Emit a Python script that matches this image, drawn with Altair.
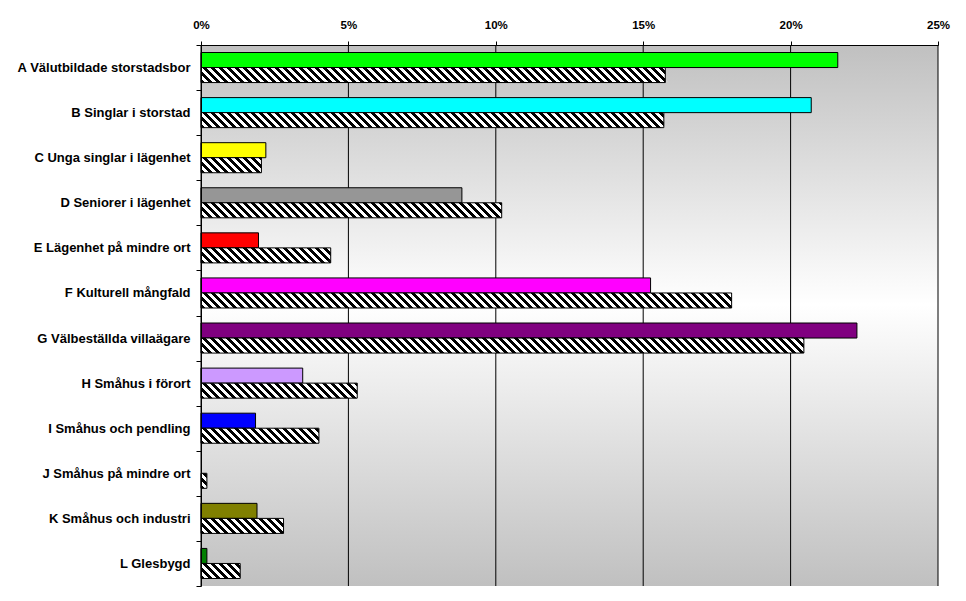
import altair as alt

categories = [
    "A Välutbildade storstadsbor",
    "B Singlar i storstad",
    "C Unga singlar i lägenhet",
    "D Seniorer i lägenhet",
    "E Lägenhet på mindre ort",
    "F Kulturell mångfald",
    "G Välbeställda villaägare",
    "H Småhus i förort",
    "I Småhus och pendling",
    "J Småhus på mindre ort",
    "K Småhus och industri",
    "L Glesbygd",
]
group_values = [21.6, 20.7, 2.2, 8.85, 1.95, 15.25, 22.25, 3.45, 1.85, 0.0, 1.9, 0.2]
compare_values = [15.75, 15.7, 2.05, 10.2, 4.4, 18.0, 20.45, 5.3, 4.0, 0.2, 2.8, 1.33]
colors = ["#00FF00", "#00FFFF", "#FFFF00", "#969696", "#FF0000", "#FF00FF",
          "#800080", "#CC99FF", "#0000FF", "#FFCC00", "#808000", "#008000"]
tick_values = [0, 5, 10, 15, 20, 25]

W, H = 737, 541
XMAX = 25
BAR_H = H / len(categories) / 3
PERIOD = 8.0
FONT = "Liberation Sans"


def hatch(v):
    """Diagonal (\\) black/white stripes as a bounding-box linear gradient."""
    w = v / XMAX * W
    h = BAR_H
    L = w + h
    a, b = w / L, -h / L
    n2 = a * a + b * b
    stops = []
    k = 0
    while k * PERIOD < L:
        s0 = k * PERIOD / L
        s1 = min((k * PERIOD + PERIOD / 2) / L, 1.0)
        s2 = min((k + 1) * PERIOD / L, 1.0)
        stops.append({"offset": s0, "color": "#000000"})
        stops.append({"offset": s1, "color": "#000000"})
        if s1 < 1.0:
            stops.append({"offset": s1, "color": "#ffffff"})
            stops.append({"offset": s2, "color": "#ffffff"})
        k += 1
    return {"gradient": "linear", "x1": 0, "y1": 1,
            "x2": a / n2, "y2": 1 + b / n2, "stops": stops}


rows = []
for cat, col, gv, cv in zip(categories, colors, group_values, compare_values):
    if gv > 0:
        rows.append({"cat": cat, "series": "a", "value": gv, "fill": col})
    if cv > 0:
        rows.append({"cat": cat, "series": "b", "value": cv, "fill": hatch(cv)})

xscale = alt.Scale(domain=[0, XMAX], nice=False)
xaxis = alt.Axis(orient="top", values=tick_values, labelExpr="datum.value + '%'",
                 grid=False, domainColor="black", tickColor="black", tickSize=4,
                 labelFontSize=11.5, labelFont=FONT, labelFontWeight="bold",
                 labelColor="black", labelPadding=11, labelFlush=False,
                 title=None, zindex=1)
yaxis = alt.Axis(tickBand="extent", tickSize=5, labelPadding=6, domainColor="black",
                 tickColor="black", labelFontSize=13, labelFont=FONT,
                 labelFontWeight="bold", labelColor="black", labelLimit=0,
                 title=None, zindex=1, grid=False)

bg = alt.Chart(alt.Data(values=[{"bg": 1}])).mark_rect(
    fill=alt.LinearGradient(
        gradient="linear",
        stops=[alt.GradientStop(offset=0, color="#c0c0c0"),
               alt.GradientStop(offset=0.48, color="#ffffff"),
               alt.GradientStop(offset=1, color="#c0c0c0")],
        x1=0, x2=0, y1=0, y2=1),
).encode(x=alt.value(0), x2=alt.value(W), y=alt.value(0), y2=alt.value(H))

grid = alt.Chart(alt.Data(values=[{"t": t} for t in tick_values])).mark_rule(
    color="black", strokeWidth=1
).encode(x=alt.X("t:Q", scale=xscale, axis=xaxis))

bars = alt.Chart(alt.Data(values=rows)).mark_bar(stroke="black", strokeWidth=1).encode(
    x=alt.X("value:Q", scale=xscale, axis=xaxis),
    y=alt.Y("cat:N", sort=categories,
            scale=alt.Scale(paddingInner=0, paddingOuter=0), axis=yaxis),
    yOffset=alt.YOffset("series:N", sort=["a", "b"],
                        scale=alt.Scale(paddingInner=0, paddingOuter=0.5)),
    fill=alt.Fill("fill:N", scale=None, legend=None),
)

chart = alt.layer(bg, grid, bars).properties(
    width=W, height=H,
    padding={"left": 193, "top": 37, "right": 20, "bottom": 7},
    autosize=alt.AutoSizeParams(type="none"),
    background="white",
).configure_view(stroke=None)

chart.save("out.html", embed_options={"renderer": "svg", "actions": False})
